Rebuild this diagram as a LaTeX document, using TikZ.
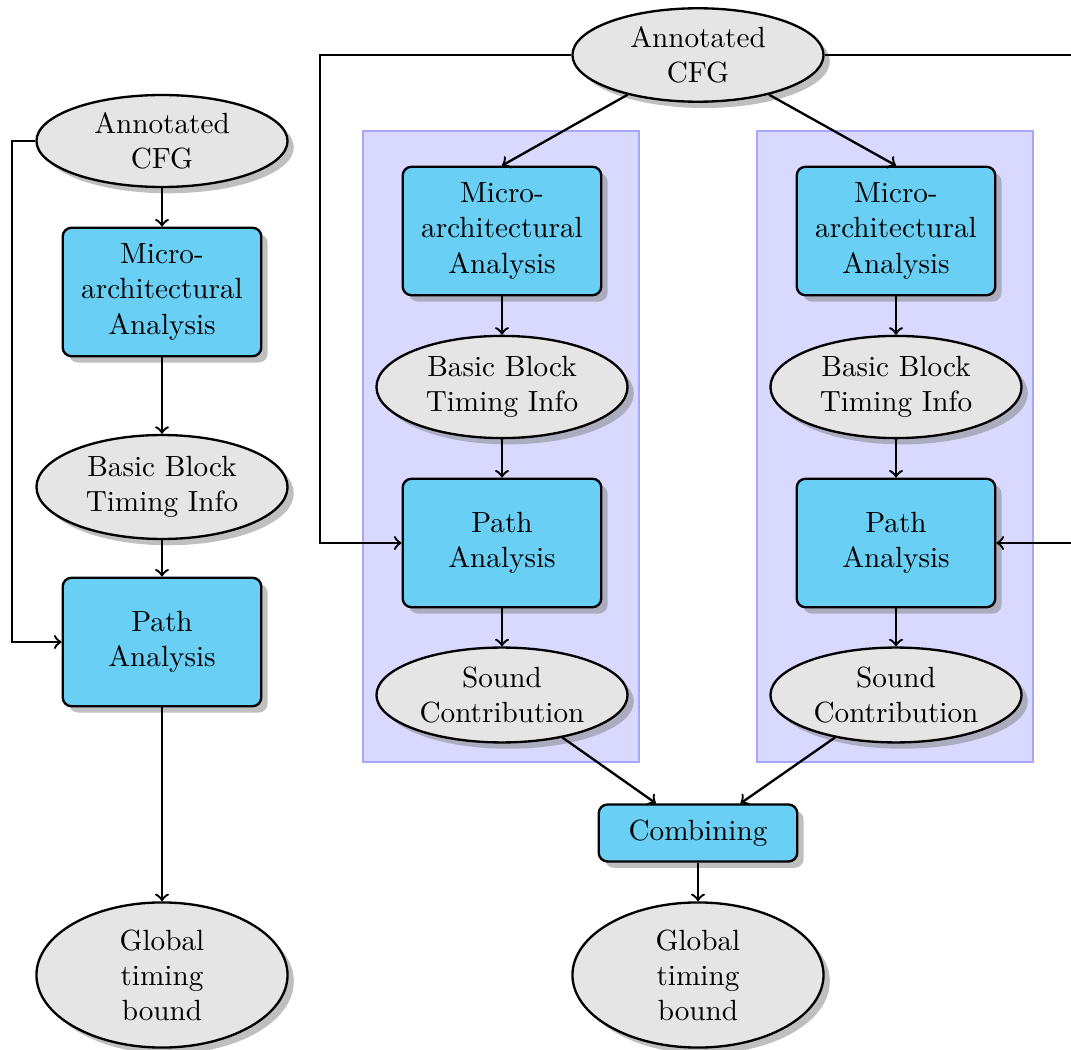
\documentclass[tikz,border=0pt]{standalone}
\usetikzlibrary{shapes.geometric,shadows,calc}
\definecolor{boxcyan}{RGB}{105,207,245}
\begin{document}
\begin{tikzpicture}[x=0.3425pt,y=-0.3425pt,
  proc/.style={rectangle,rounded corners=3pt,draw,thick,fill=boxcyan,drop shadow,
    align=center,minimum width=68pt,minimum height=44pt,inner sep=2pt},
  data/.style={ellipse,draw,thick,fill=black!10,drop shadow,align=center,
    minimum width=86pt,inner sep=0.5pt},
  region/.style={draw=blue!35,fill=blue!15},
  link/.style={->,thick}]
\useasboundingbox (0,0) rectangle (1071,1050);
\clip (0,0) rectangle (1071,1050);

% shaded regions around the two parallel analyses
\path[region] (363,131) rectangle (639,762);
\path[region] (757,131) rectangle (1033,762);

% single analysis chain
\node[data,minimum height=31.5pt] (lcfg) at (162,141) {Annotated\\CFG};
\node[proc] (lmicro) at (162,292) {Micro-\\architectural\\Analysis};
\node[data,minimum height=35.6pt] (lbb) at (162,487) {Basic Block\\Timing Info};
\node[proc] (lpath) at (162,642) {Path\\Analysis};
\node[data,minimum height=49.7pt] (lglob) at (162,975) {Global\\timing\\bound};

\draw[link] (lcfg) -- (lmicro);
\draw[link] (lmicro) -- (lbb);
\draw[link] (lbb) -- (lpath);
\draw[link] (lpath) -- (lglob);
\draw[link] (lcfg.west) -- ++(-23,0) |- (lpath.west);

% split analysis
\node[data,minimum height=32pt] (cfg) at (698,55) {Annotated\\CFG};

\foreach \i/\x in {1/502,2/896}{
  \node[proc] (micro\i) at (\x,231) {Micro-\\architectural\\Analysis};
  \node[data,minimum height=35pt] (bb\i) at (\x,387) {Basic Block\\Timing Info};
  \node[proc] (path\i) at (\x,543) {Path\\Analysis};
  \node[data,minimum height=32.5pt] (sound\i) at (\x,695) {Sound\\Contribution};
  \draw[link] (cfg) -- (micro\i.north);
  \draw[link] (micro\i) -- (bb\i);
  \draw[link] (bb\i) -- (path\i);
  \draw[link] (path\i) -- (sound\i);
}

\node[proc,minimum height=19.5pt] (comb) at (698,833) {Combining};
\node[data,minimum height=49.7pt] (glob) at (698,975) {Global\\timing\\bound};

\draw[link] (cfg.west) -- ++(-251,0) |- (path1.west);
\draw[link] (cfg.east) -- ++(262,0) |- (path2.east);
\draw[link] (sound1) -- (comb);
\draw[link] (sound2) -- (comb);
\draw[link] (comb) -- (glob);
\end{tikzpicture}
\end{document}
